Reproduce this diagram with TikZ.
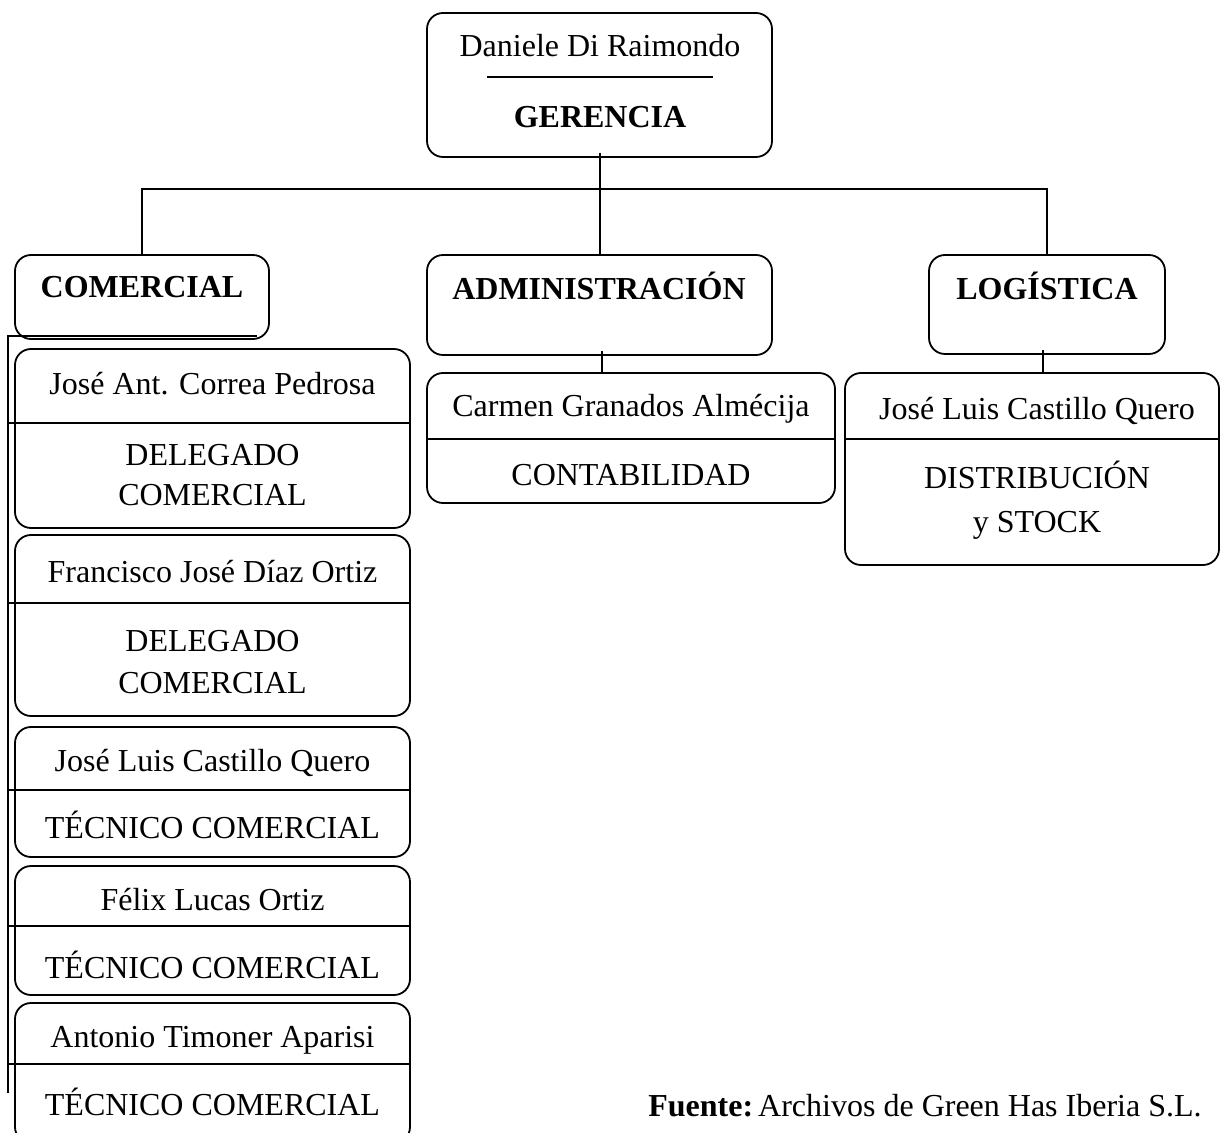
\documentclass[tikz,border=0pt]{standalone}
\usepackage{fontspec}
\setmainfont{Liberation Serif}
\begin{document}
\begin{tikzpicture}[x=0.5pt,y=-0.5pt,
  box/.style={draw, line width=0.9pt, rounded corners=8pt, inner sep=0pt},
  txt/.style={anchor=base, inner sep=0pt, font=\fontsize{16}{20}\selectfont},
  btxt/.style={txt, font=\fontsize{16}{20}\selectfont\bfseries},
  ln/.style={line width=0.9pt}]
\clip (0,0) rectangle (1220,1133);
\useasboundingbox (0,0) rectangle (1220,1133);

% top box
\node[box, minimum width=172.5pt, minimum height=72pt] (top) at (599.5,85) {};
\node[txt] (topname) at (600,57) {Daniele Di Raimondo};
\node[btxt] (toprole) at (600,128) {GERENCIA};
\draw[ln] (487,77) -- (713,77);

% second level
\node[box, minimum width=127pt, minimum height=42pt] (com) at (142,297) {};
\node[btxt] (comt) at (142,298) {COMERCIAL};
\node[box, minimum width=172.5pt, minimum height=50pt] (adm) at (599.5,305) {};
\node[btxt] (admt) at (599,300) {ADMINISTRACIÓN};
\node[box, minimum width=118pt, minimum height=49.5pt] (log) at (1047,304.5) {};
\node[btxt] (logt) at (1047,300) {LOGÍSTICA};

% connectors top level
\draw[ln] ([yshift=2.5pt]top.south -| 600,0) -- (600,190) -- (adm.north -| 600,0);
\draw[ln] (com.north) -- ++(0,-65) -| (log.north);

% administration child
\node[box, minimum width=204pt, minimum height=65pt] (car) at (631,438) {};
\node[txt] (carn) at (631,417) {Carmen Granados Almécija};
\node[txt] (carr) at (631,486) {CONTABILIDAD};
\draw[ln] (car.west |- 0,439) -- (car.east |- 0,439);
\draw[ln] ([yshift=2.5pt]adm.south -| 602,0) -- (car.north -| 602,0);

% logistics child
\node[box, minimum width=187pt, minimum height=96pt] (jlr) at (1032,469) {};
\node[txt] (jlrn) at (1037,420) {José Luis Castillo Quero};
\node[txt] (jlrr1) at (1037,489) {DISTRIBUCIÓN};
\node[txt] (jlrr2) at (1037,532) {y STOCK};
\draw[ln] (jlr.west |- 0,439) -- (jlr.east |- 0,439);
\draw[ln] ([yshift=2.5pt]log.south -| 1043,0) -- (jlr.north -| 1043,0);

% commercial column
\node[box, minimum width=197.5pt, minimum height=89.5pt] (b1) at (212.5,438.5) {};
\node[txt] (b1n) at (212.5,395) {José Ant. Correa Pedrosa};
\node[txt] (b1r1) at (212.5,466) {DELEGADO};
\node[txt] (b1r2) at (212.5,506) {COMERCIAL};

\node[box, minimum width=197.5pt, minimum height=90.5pt] (b2) at (212.5,625.5) {};
\node[txt] (b2n) at (212.5,582) {Francisco José Díaz Ortiz};
\node[txt] (b2r1) at (212.5,651) {DELEGADO};
\node[txt] (b2r2) at (212.5,693) {COMERCIAL};

\node[box, minimum width=197.5pt, minimum height=65pt] (b3) at (212.5,792) {};
\node[txt] (b3n) at (212.5,771) {José Luis Castillo Quero};
\node[txt] (b3r) at (212.5,838) {TÉCNICO COMERCIAL};

\node[box, minimum width=197.5pt, minimum height=64.5pt] (b4) at (212.5,930.5) {};
\node[txt] (b4n) at (212.5,910) {Félix Lucas Ortiz};
\node[txt] (b4r) at (212.5,978) {TÉCNICO COMERCIAL};

\node[box, minimum width=197.5pt, minimum height=70pt] (b5) at (212.5,1073) {};
\node[txt] (b5n) at (212.5,1047) {Antonio Timoner Aparisi};
\node[txt] (b5r) at (212.5,1115) {TÉCNICO COMERCIAL};

% bracket line
\coordinate (bt) at (8,336);
\coordinate (bb) at (8,1093);
\draw[ln] (257,336) -- (bt) -- (bb);
\draw[ln] (bt |- 0,423) -- (b1.east |- 0,423);
\draw[ln] (bt |- 0,603) -- (b2.east |- 0,603);
\draw[ln] (bt |- 0,790) -- (b3.east |- 0,790);
\draw[ln] (bt |- 0,926) -- (b4.east |- 0,926);
\draw[ln] (bt |- 0,1064) -- (b5.east |- 0,1064);

% source
\node[txt] (src) at (925,1116) {\textbf{Fuente:}\kern2.5pt Archivos de Green Has Iberia S.L.};
\end{tikzpicture}
\end{document}
